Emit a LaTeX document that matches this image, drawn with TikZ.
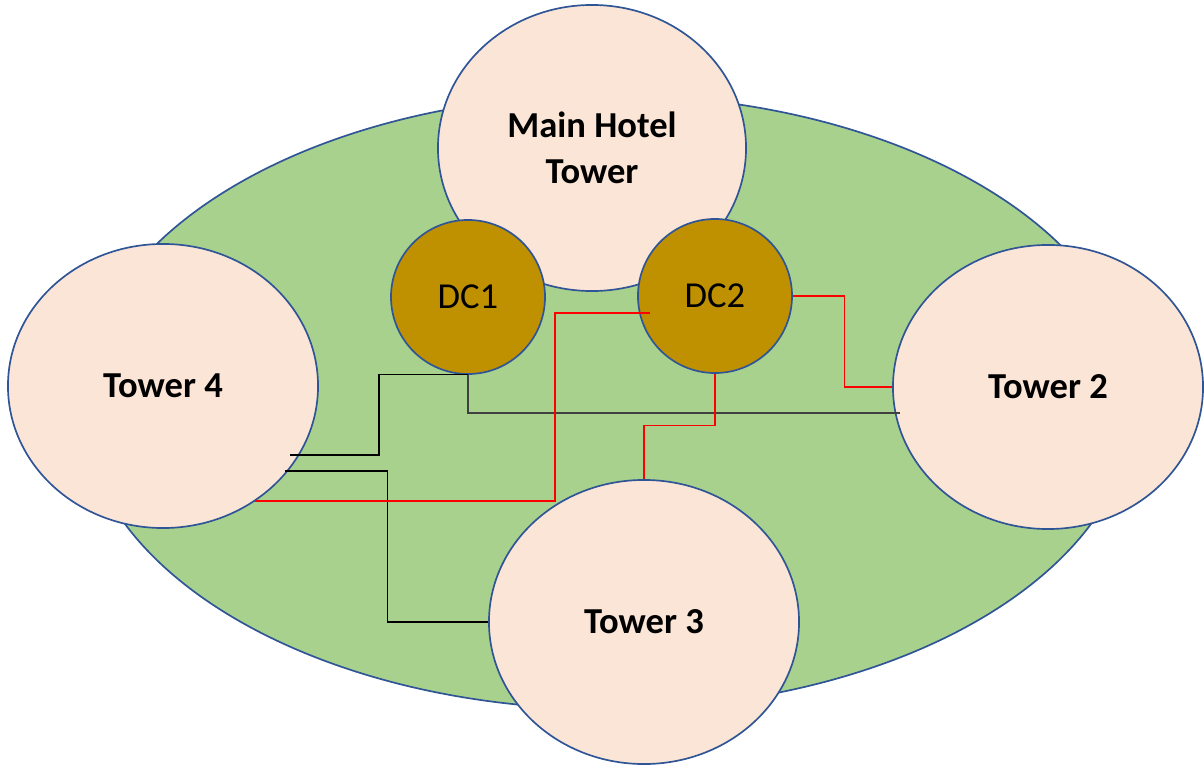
\documentclass[tikz,border=0pt]{standalone}
\usepackage{fontspec}
\setmainfont{Carlito}
\usepackage{xcolor}
\usepackage{tikz}
\usetikzlibrary{shapes.geometric}

\definecolor{campus}{HTML}{A9D18E}
\definecolor{towerfill}{HTML}{FBE5D6}
\definecolor{dcfill}{HTML}{BF9000}
\definecolor{rim}{HTML}{2F5597}

\begin{document}
\begin{tikzpicture}[
    x=0.025cm,
    y=-0.025cm,
    site/.style={
      ellipse,
      draw=rim,
      fill=campus,
      line width=1.2pt,
      minimum width=26.3cm,
      minimum height=15.35cm
    },
    tower/.style={
      ellipse,
      draw=rim,
      fill=towerfill,
      line width=1.2pt,
      inner sep=0pt,
      minimum width=7.75cm,
      minimum height=7.1cm,
      align=center,
      font=\fontsize{26}{33}\selectfont\bfseries
    },
    dc/.style={
      circle,
      draw=rim,
      fill=dcfill,
      line width=1.2pt,
      inner sep=0pt,
      minimum size=3.85cm,
      font=\fontsize{26}{33}\selectfont
    },
    wire/.style={draw, black, line width=0.8pt},
    trunk/.style={draw, black!75, line width=1.1pt},
    redwire/.style={draw, red, line width=0.8pt}
]
    \useasboundingbox (0,0) rectangle (1204,767);

    % Nodes
    \node [site] (campus) at (608,402) {};
    \node [tower, minimum width=7.7cm, minimum height=7.15cm] (main) at (592,148) {Main Hotel\\Tower};
    \node [dc] (dc1) at (468,297) {DC1};
    \node [dc] (dc2) at (715,296) {DC2};
    \node [tower] (t4) at (163,386) {Tower 4};
    \node [tower] (t2) at (1048,387) {Tower 2};
    \node [tower] (t3) at (644,622) {Tower 3};

    % loose wire ends
    \coordinate (t4a) at (290,455);
    \coordinate (t4b) at (285,471);
    \coordinate (t4c) at (255,501);
    \coordinate (t2b) at (900,413);
    \coordinate (dc2a) at (650,313);

    % Edges
    \path [wire] (dc1.south) -- ++(-89,0) |- (t4a);
    \path [trunk] (dc1.south) |- (t2b);
    \path [wire] (t3.west) -- ++(-101,0) |- (t4b);
    \path [redwire] (dc2a) -- ++(-95,0) |- (t4c);
    \path [redwire] (dc2.south) -- ++(0,52) -| (t3.north);
    \path [redwire] (dc2.east) -- ++(52,0) |- (t2.west);

\end{tikzpicture}
\end{document}
